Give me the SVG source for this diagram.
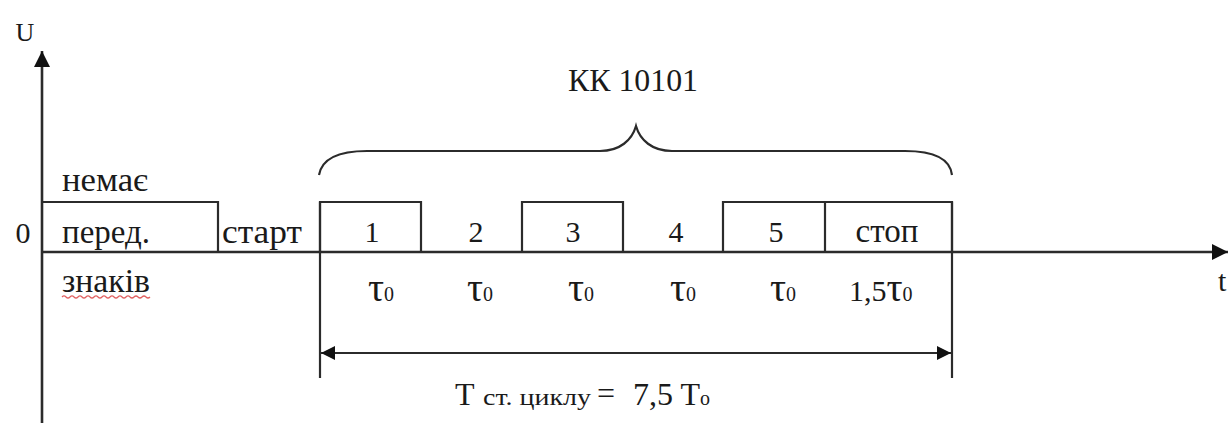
<svg xmlns="http://www.w3.org/2000/svg" width="1230" height="423" viewBox="0 0 1230 423">
<style>
  .ln{fill:none;stroke:#2b2b2b;stroke-width:2.2}
  .ax{fill:none;stroke:#2b2b2b;stroke-width:2.6}
  .m{font-size:30px}
  .w{font-size:33px}
  .c{text-anchor:middle}
  .s{font-size:20px}
  .tau{font-size:40px}
</style>
<defs>
  <marker id="ah" viewBox="0 0 10 10" refX="10" refY="5" markerWidth="16" markerHeight="16" markerUnits="userSpaceOnUse" orient="auto">
    <path d="M0,0 L10,5 L0,10 z" fill="#111"/>
  </marker>
  <marker id="as" viewBox="0 0 10 10" refX="10" refY="5" markerWidth="14" markerHeight="14" markerUnits="userSpaceOnUse" orient="auto-start-reverse">
    <path d="M0,0 L10,5 L0,10 z" fill="#111"/>
  </marker>
</defs>
<g font-family="Liberation Serif, DejaVu Serif, serif" fill="#1a1a1a">
<g id="axes">
  <path class="ax" d="M42,423 V51" marker-end="url(#ah)"/>
  <path class="ax" d="M42,252 H1228" marker-end="url(#ah)"/>
  <text class="c" x="25" y="41" font-size="26">U</text>
  <text class="m" x="1218" y="291">t</text>
  <text class="m c" x="23" y="243">0</text>
</g>

<g id="idle">
  <path class="ln" d="M42,202 H218 V252"/>
  <text class="w" x="62" y="191" textLength="86" lengthAdjust="spacingAndGlyphs">немає</text>
  <text class="w" x="62" y="243" textLength="88" lengthAdjust="spacingAndGlyphs">перед.</text>
  <text class="w" x="62" y="292" textLength="88" lengthAdjust="spacingAndGlyphs">знаків</text>
  <path d="M62,297 q2,-2 4,0 t4,0 t4,0 t4,0 t4,0 t4,0 t4,0 t4,0 t4,0 t4,0 t4,0 t4,0 t4,0 t4,0 t4,0 t4,0 t4,0 t4,0 t4,0 t4,0 t4,0 t4,0" fill="none" stroke="#e06060" stroke-width="1.2"/>
</g>

<g id="start">
  <text class="w" x="222" y="243" textLength="80" lengthAdjust="spacingAndGlyphs">старт</text>
</g>

<g id="bits">
  <path class="ln" d="M320,252 V202 H421 V252"/>
  <path class="ln" d="M522,252 V202 H623 V252"/>
  <path class="ln" d="M723,252 V202 H952 V252"/>
  <path class="ln" d="M825,202 V252"/>
  <text class="m c" x="372" y="242">1</text>
  <text class="m c" x="476" y="242">2</text>
  <text class="m c" x="573" y="242">3</text>
  <text class="m c" x="676" y="242">4</text>
  <text class="m c" x="776" y="242">5</text>
  <text class="w c" x="887" y="242">стоп</text>
</g>

<g id="durations">
  <text class="tau" x="368" y="301">τ<tspan class="s">0</tspan></text>
  <text class="tau" x="467" y="301">τ<tspan class="s">0</tspan></text>
  <text class="tau" x="568" y="301">τ<tspan class="s">0</tspan></text>
  <text class="tau" x="670" y="301">τ<tspan class="s">0</tspan></text>
  <text class="tau" x="770" y="301">τ<tspan class="s">0</tspan></text>
  <text x="849" y="301"><tspan class="m">1,5</tspan><tspan class="tau">τ</tspan><tspan class="s">0</tspan></text>
</g>

<g id="brace">
  <path class="ln" d="M319,175 C322,158 340,151 367,151 H600 C620,151 632,140 636,126 C640,140 652,151 672,151 H905 C932,151 950,158 952,175"/>
  <text x="568" y="91" font-size="32" textLength="130" lengthAdjust="spacingAndGlyphs">КК 10101</text>
</g>

<g id="connectors">
  <path class="ln" d="M320,202 V378"/>
  <path class="ln" d="M952,202 V378"/>
  <path class="ln" d="M321,353 H951" marker-start="url(#as)" marker-end="url(#as)"/>
</g>

<g id="cycle">
  <text x="455" y="405" font-size="32">T</text>
  <text x="483" y="405" font-size="24" textLength="108" lengthAdjust="spacingAndGlyphs">ст. циклу</text>
  <text x="597" y="404" font-size="32">=</text>
  <text x="633" y="405" font-size="32">7,5 T<tspan font-size="20">o</tspan></text>
</g>
</g>
</svg>
